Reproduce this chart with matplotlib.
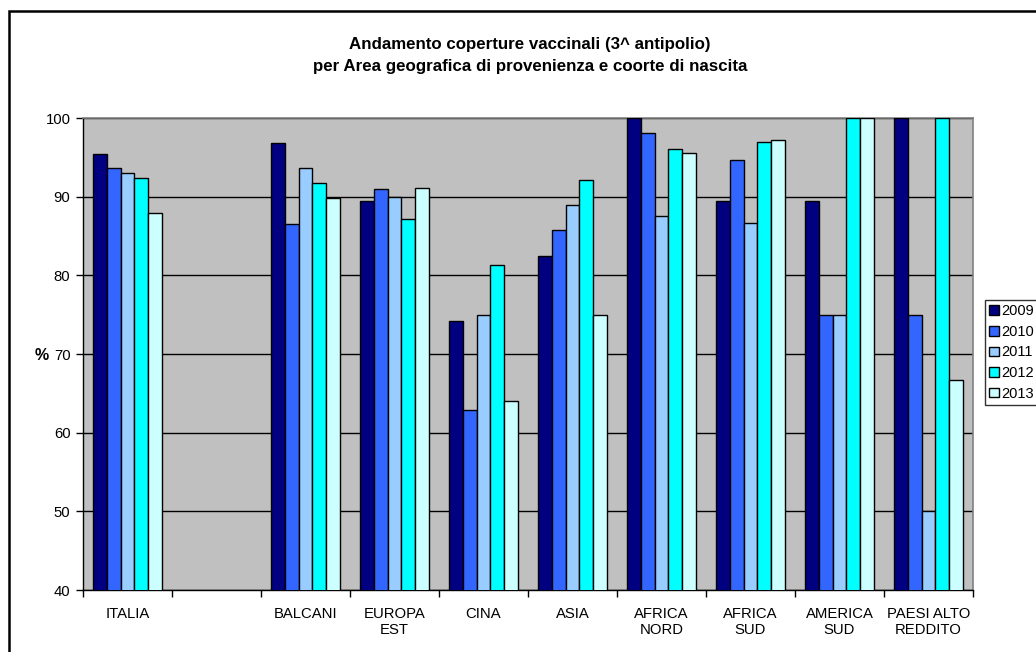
import numpy as np
import matplotlib.pyplot as plt
from matplotlib.patches import Rectangle

plt.rcParams['font.family'] = ['Liberation Sans', 'DejaVu Sans']

# aree geografiche (lo slot vuoto dopo ITALIA resta senza barre)
aree = ["ITALIA", "", "BALCANI", "EUROPA\nEST", "CINA", "ASIA",
        "AFRICA\nNORD", "AFRICA\nSUD", "AMERICA\nSUD", "PAESI ALTO\nREDDITO"]
coorti = ["2009", "2010", "2011", "2012", "2013"]

nan = np.nan
cop_2009 = [95.4, nan, 96.8, 89.5, 74.2, 82.5, 100.0, 89.5, 89.5, 100.0]
cop_2010 = [93.6, nan, 86.5, 91.0, 62.9, 85.7, 98.1, 94.6, 75.0, 75.0]
cop_2011 = [93.0, nan, 93.6, 89.9, 75.0, 88.9, 87.5, 86.6, 75.0, 50.0]
cop_2012 = [92.4, nan, 91.7, 87.1, 81.3, 92.1, 96.1, 97.0, 100.0, 100.0]
cop_2013 = [87.9, nan, 89.8, 91.1, 64.0, 75.0, 95.6, 97.2, 100.0, 66.7]

serie = [cop_2009, cop_2010, cop_2011, cop_2012, cop_2013]
colori = ["#000080", "#3366FF", "#99CCFF", "#00FFFF", "#CCFFFF"]

fig = plt.figure(figsize=(10.36, 6.52), dpi=100)
ax = fig.add_axes([83 / 1036, 62 / 652, 890 / 1036, 472 / 652])
ax.set_facecolor("#C0C0C0")

x = np.arange(len(aree))
w = 0.155
for i, (vals, c, lab) in enumerate(zip(serie, colori, coorti)):
    ax.bar(x + (i - 2) * w, vals, width=w, color=c, edgecolor="black",
           linewidth=1.0, label=lab, zorder=3)

ax.set_ylim(40, 100)
ax.set_xlim(-0.5, len(aree) - 0.5)
ax.set_yticks(np.arange(40, 101, 10))
ax.yaxis.grid(True, color="black", linewidth=1.0, zorder=1)
ax.set_axisbelow(True)

# etichette al centro, tacche ai confini delle categorie
ax.set_xticks(x)
ax.set_xticklabels(aree, fontsize=10.7, linespacing=1.2)
ax.set_xticks(np.arange(-0.5, len(aree)), minor=True)
ax.tick_params(axis="x", which="major", length=0, pad=12)
ax.tick_params(axis="x", which="minor", length=5, width=1, color="black", direction="out")
ax.tick_params(axis="y", length=5, width=1, labelsize=10.7, pad=4)

for s in ["top", "right"]:
    ax.spines[s].set_color("#808080")
    ax.spines[s].set_linewidth(1.2)
for s in ["left", "bottom"]:
    ax.spines[s].set_color("black")
    ax.spines[s].set_linewidth(1.0)

fig.text(42 / 1036, 1 - 355 / 652, "%", fontsize=11.5, fontweight="bold",
         ha="center", va="center")

fig.text(530 / 1036, 1 - 45 / 652, "Andamento coperture vaccinali (3^ antipolio)",
         fontsize=12.2, fontweight="bold", ha="center", va="center")
fig.text(530 / 1036, 1 - 67 / 652, "per Area geografica di provenienza e coorte di nascita",
         fontsize=12.2, fontweight="bold", ha="center", va="center")

leg = fig.legend(loc="upper left", bbox_to_anchor=(985 / 1036, 1 - 300 / 652),
                 fontsize=10.5, frameon=True, fancybox=False, borderpad=0.3,
                 handlelength=0.65, handleheight=0.65, handletextpad=0.15,
                 labelspacing=0.45, borderaxespad=0)
leg.get_frame().set_edgecolor("black")
leg.get_frame().set_linewidth(1.0)

# cornice esterna del grafico
fig.patches.append(Rectangle((9 / 1036, -0.1), 1.2, 1.1 - 11 / 652,
                             transform=fig.transFigure, fill=False,
                             edgecolor="black", linewidth=1.8))

fig.savefig("out.png", dpi=100)
